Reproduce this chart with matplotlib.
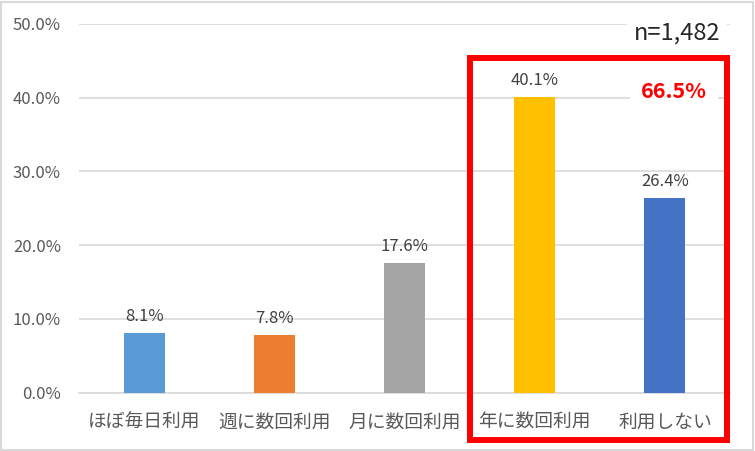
import matplotlib
matplotlib.use("Agg")
import matplotlib.pyplot as plt
from matplotlib.patches import Rectangle
from matplotlib.ticker import PercentFormatter

plt.rcParams["font.family"] = ["Noto Sans CJK JP", "DejaVu Sans"]

categories = ["ほぼ毎日利用", "週に数回利用", "月に数回利用", "年に数回利用", "利用しない"]
values = [8.1, 7.8, 17.6, 40.1, 26.4]
colors = ["#5B9BD5", "#ED7D31", "#A5A5A5", "#FFC000", "#4472C4"]
yticks = [0, 10, 20, 30, 40, 50]
sample_note = "n=1,482"
highlight_note = "66.5%"

W, H = 755, 451
fig = plt.figure(figsize=(W / 100, H / 100), dpi=100)
fig.patch.set_facecolor("white")

# outer chart border
fig.add_artist(Rectangle((1 / W, 1 / H), (W - 3) / W, (H - 3) / H,
                         transform=fig.transFigure, fill=False,
                         edgecolor="#d9d9d9", linewidth=1.5))

ax = fig.add_axes([79 / W, 58.3 / H, 651 / W, 368.7 / H])
x = list(range(len(categories)))
ax.bar(x, values, width=0.315, color=colors, zorder=3)

ax.set_xlim(-0.5, len(categories) - 0.5)
ax.set_ylim(0, 50)
ax.set_yticks(yticks)
ax.yaxis.set_major_formatter(PercentFormatter(decimals=1))
ax.grid(axis="y", color="#d9d9d9", linewidth=1.2, zorder=0)
ax.set_axisbelow(True)
for s in ["top", "right", "left"]:
    ax.spines[s].set_visible(False)
ax.spines["bottom"].set_color("#d9d9d9")
ax.spines["bottom"].set_linewidth(1.2)
ax.tick_params(axis="y", length=0, pad=13, labelsize=12, labelcolor="#595959")
ax.tick_params(axis="x", length=0, pad=14, labelsize=13.5, labelcolor="#595959")
ax.set_xticks(x)
ax.set_xticklabels(categories)

for xi, v in zip(x, values):
    ax.annotate(f"{v:.1f}%", (xi, v), xytext=(0, 6), textcoords="offset points",
                ha="center", va="bottom", fontsize=12, color="#404040", zorder=4)

# annotations
fig.text(677 / W, 1 - 33 / H, sample_note, ha="center", va="center",
         fontsize=17, color="#262626",
         bbox=dict(facecolor="white", edgecolor="none", pad=5))
fig.text(674 / W, 1 - 92 / H, highlight_note, ha="center", va="center",
         fontsize=15.5, color="#FF0000", fontweight="bold",
         bbox=dict(facecolor="white", edgecolor="none", pad=8))

# red highlight box around the last two categories
fig.add_artist(Rectangle((470 / W, 1 - 440 / H), 257 / W, 382 / H,
                         transform=fig.transFigure, fill=False,
                         edgecolor="#FF0000", linewidth=4.3, zorder=10))

fig.savefig("out.png", dpi=100)
